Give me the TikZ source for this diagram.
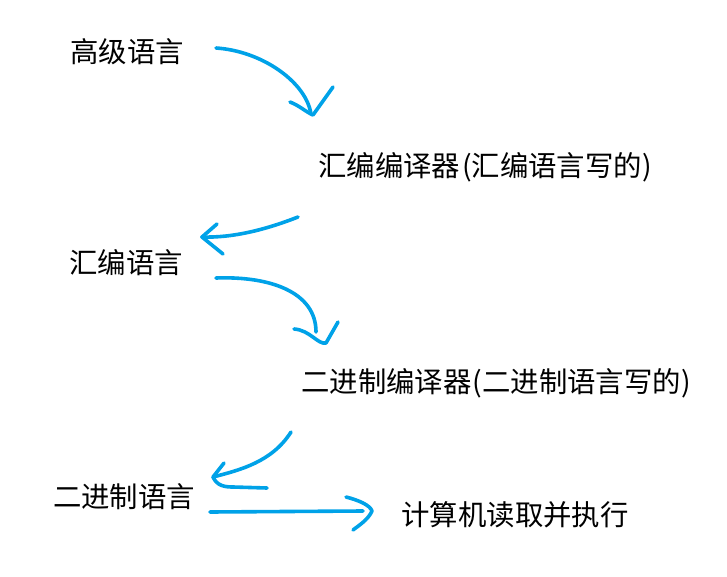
\documentclass[tikz,border=0pt]{standalone}
\usepackage{fontspec}
\newfontfamily\cjk{Noto Sans CJK SC}
\definecolor{paint}{HTML}{00A2E8}
\begin{document}
\begin{tikzpicture}[x=1pt,y=-1pt,
  pen/.style={draw=paint, line width=3.6pt, line cap=round, line join=round},
  lbl/.style={font=\cjk\fontsize{28.4}{32}\selectfont, inner sep=0pt}]
  \useasboundingbox (0,0) rectangle (727,577);
  % texts
  \node[lbl] (hl) at (127,52) {高级语言};
  \node[lbl] (ac) at (485,167) {汇编编译器\kern2pt(汇编语言写的)};
  \node[lbl] (al) at (126,263) {汇编语言};
  \node[lbl] (bc) at (496,383) {二进制编译器\kern1pt(二进制语言写的)};
  \node[lbl] (bl) at (124,497) {二进制语言};
  \node[lbl] (run) at (515,515) {计算机读取并执行};
  % arrow ends
  \coordinate (a1s) at (216,48);  \coordinate (a1e) at (311,114);
  \coordinate (a2s) at (298,217); \coordinate (a2e) at (202,237);
  \coordinate (a3s) at (216,278); \coordinate (a3e) at (316,332);
  \coordinate (a4s) at (291,432); \coordinate (a4e) at (213,477);
  \coordinate (a5s) at (210,512); \coordinate (a5e) at (372,511);
  % hand drawn arrows
  \draw[pen] (a1s) .. controls (262,51) and (306,82) .. (a1e);
  \draw[pen] (290,102) .. controls (300,106) and (306,112) .. (313,115) -- (333,87);
  \draw[pen] (a2s) .. controls (265,230) and (232,238) .. (a2e);
  \draw[pen] (217,224) -- (a2e) -- (223,254);
  \draw[pen] (a3s) .. controls (270,276) and (316,292) .. (a3e);
  \draw[pen] (294,329) .. controls (310,330) and (318,345) .. (326,343) -- (338,322);
  \draw[pen] (a4s) .. controls (272,462) and (240,470) .. (a4e);
  \draw[pen] (224,463) -- (a4e) .. controls (217,486) and (225,487) .. (233,487) -- (267,488);
  \draw[pen] (a5s) -- (363,511);
  \draw[pen] (346,497) .. controls (358,500) and (370,505) .. (a5e) .. controls (368,520) and (358,526) .. (353,530);
\end{tikzpicture}
\end{document}
